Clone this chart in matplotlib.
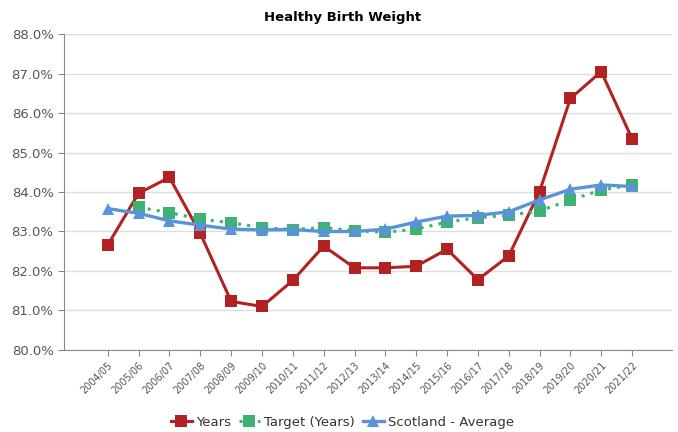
import numpy as np
import matplotlib.pyplot as plt
from matplotlib.ticker import FuncFormatter

# data
years = ["2004/05", "2005/06", "2006/07", "2007/08", "2008/09", "2009/10",
         "2010/11", "2011/12", "2012/13", "2013/14", "2014/15", "2015/16",
         "2016/17", "2017/18", "2018/19", "2019/20", "2020/21", "2021/22"]
actual = [82.66, 83.97, 84.37, 82.95, 81.23, 81.10, 81.76, 82.63, 82.08,
          82.08, 82.12, 82.55, 81.78, 82.38, 84.01, 86.37, 87.05, 85.35]
target = [np.nan, 83.61, 83.48, 83.31, 83.22, 83.10, 83.05, 83.10, 83.02,
          82.98, 83.06, 83.24, 83.35, 83.41, 83.52, 83.80, 84.05, 84.18]
scotland = [83.58, 83.46, 83.27, 83.16, 83.06, 83.04, 83.05, 83.00, 83.00,
            83.06, 83.24, 83.39, 83.41, 83.50, 83.80, 84.07, 84.18, 84.14]

x = np.arange(len(years))

fig = plt.figure(figsize=(6.78, 4.32), dpi=100)
ax = fig.add_axes([0.0944, 0.190, 0.897, 0.731])

ax.plot(x, actual, color="#b22222", lw=2.2, marker="s", ms=8, mew=0,
        label="Years", zorder=3)
ax.plot(x, target, color="#3cb371", lw=2.2, ls=(0, (1, 2)), marker="s", ms=8,
        mew=0, label="Target (Years)", zorder=4)
ax.plot(x, scotland, color="#5b93da", lw=2.4, marker="^", ms=9, mew=0,
        label="Scotland - Average", zorder=5)

ax.set_ylim(80, 88)
ax.set_yticks(np.arange(80, 88.1, 1))
ax.yaxis.set_major_formatter(FuncFormatter(lambda v, p: f"{v:.1f}%"))
ax.set_xlim(-1.42, 18.3)
ax.set_xticks(x)
ax.set_xticklabels(years, rotation=45, ha="right", rotation_mode="anchor",
                   fontsize=7, color="#555555")
ax.tick_params(axis="y", labelsize=9.5, colors="#555555", length=4,
               color="#888888")
ax.tick_params(axis="x", length=4, color="#888888")

ax.grid(axis="y", color="#dddddd", lw=1)
ax.set_axisbelow(True)
for s in ["top", "right"]:
    ax.spines[s].set_visible(False)
for s in ["left", "bottom"]:
    ax.spines[s].set_color("#888888")

fig.text(0.505, 0.96, "Healthy Birth Weight", ha="center", va="center",
         fontsize=9.5, fontweight="bold")

fig.legend(loc="center", bbox_to_anchor=(0.505, 0.022), ncol=3, frameon=False,
           fontsize=9.5, handlelength=1.6, columnspacing=0.6, handletextpad=0.3,
           labelcolor="#333333")

fig.savefig("out.png", dpi=100)
